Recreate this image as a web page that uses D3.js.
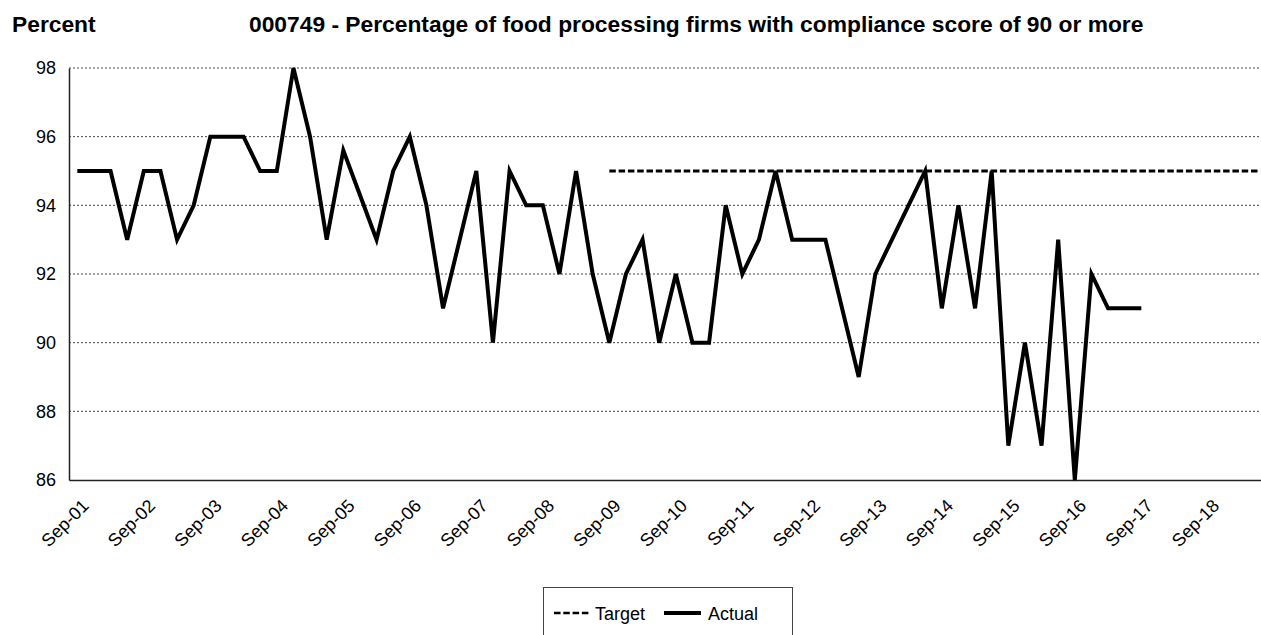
<!DOCTYPE html>
<html>
<head>
<meta charset="utf-8">
<script src="https://cdn.jsdelivr.net/npm/d3@7/dist/d3.min.js"></script>
<style>
  body { margin: 0; background: #fff; overflow: hidden; }
  svg { display: block; font-family: Arial, "Liberation Sans", sans-serif; }
</style>
</head>
<body>
<div id="chart"></div>
<script>
// Quarterly categories, Sep-01 .. Jun-19
var categories = [
    "Sep-01","Dec-01","Mar-02","Jun-02","Sep-02","Dec-02","Mar-03","Jun-03",
    "Sep-03","Dec-03","Mar-04","Jun-04","Sep-04","Dec-04","Mar-05","Jun-05",
    "Sep-05","Dec-05","Mar-06","Jun-06","Sep-06","Dec-06","Mar-07","Jun-07",
    "Sep-07","Dec-07","Mar-08","Jun-08","Sep-08","Dec-08","Mar-09","Jun-09",
    "Sep-09","Dec-09","Mar-10","Jun-10","Sep-10","Dec-10","Mar-11","Jun-11",
    "Sep-11","Dec-11","Mar-12","Jun-12","Sep-12","Dec-12","Mar-13","Jun-13",
    "Sep-13","Dec-13","Mar-14","Jun-14","Sep-14","Dec-14","Mar-15","Jun-15",
    "Sep-15","Dec-15","Mar-16","Jun-16","Sep-16","Dec-16","Mar-17","Jun-17",
    "Sep-17","Dec-17","Mar-18","Jun-18","Sep-18","Dec-18","Mar-19","Jun-19"
];

// Actual values from Sep-01 to Sep-17
var actual = [
    95, 95, 95, 93, 95, 95, 93, 94, 96, 96, 96,
    95, 95, 98, 96, 93, 95.6, 94.3, 93, 95, 96,
    94, 91, 93, 95, 90, 95, 94, 94, 92, 95,
    92, 90, 92, 93, 90, 92, 90, 90, 94, 92,
    93, 95, 93, 93, 93, 91, 89, 92, 93, 94,
    95, 91, 94, 91, 95, 87, 90, 87, 93, 86,
    92, 91, 91, 91
];

// Target of 95 from Sep-09 onwards
var targetStart = "Sep-09";
var targetValue = 95;

var xTickLabels = ["Sep-01","Sep-02","Sep-03","Sep-04","Sep-05","Sep-06","Sep-07","Sep-08","Sep-09",
    "Sep-10","Sep-11","Sep-12","Sep-13","Sep-14","Sep-15","Sep-16","Sep-17","Sep-18"];
var yTicks = [86, 88, 90, 92, 94, 96, 98];

var W = 1261, H = 635;
var margin = { top: 68, left: 69 },
    plotRight = 1266,
    plotBottom = 480;

var svg = d3.select("#chart").append("svg")
    .attr("width", W)
    .attr("height", H);

var x = d3.scalePoint()
    .domain(categories)
    .range([margin.left, plotRight])
    .padding(0.5);

var y = d3.scaleLinear()
    .domain([86, 98])
    .range([plotBottom, margin.top]);

// Titles
svg.append("text")
    .attr("x", 12).attr("y", 32)
    .style("font-size", "22.8px").style("font-weight", "bold")
    .text("Percent");
svg.append("text")
    .attr("x", 249).attr("y", 32)
    .style("font-size", "22.8px").style("font-weight", "bold")
    .text("000749 - Percentage of food processing firms with compliance score of 90 or more");

// Gridlines
svg.append("g")
    .selectAll("line")
    .data(yTicks.filter(function (d) { return d !== 86; }))
    .enter()
    .append("line")
    .attr("x1", margin.left).attr("x2", plotRight)
    .attr("y1", function (d) { return y(d); })
    .attr("y2", function (d) { return y(d); })
    .attr("stroke", "#444")
    .attr("stroke-width", 1)
    .attr("stroke-dasharray", "2,2");

// Y axis
var yAxis = d3.axisLeft(y).tickValues(yTicks).tickSize(0).tickPadding(13);
var gy = svg.append("g")
    .attr("transform", "translate(" + margin.left + ",0)")
    .call(yAxis);
gy.select(".domain").attr("stroke", "#222").attr("stroke-width", 1.5);
gy.selectAll("text").style("font-size", "18px").attr("fill", "#000");

// X axis
var xAxis = d3.axisBottom(x).tickValues(xTickLabels).tickSize(0).tickFormat(function (d) { return d; });
var gx = svg.append("g")
    .attr("transform", "translate(0," + plotBottom + ")")
    .call(xAxis);
gx.select(".domain").attr("stroke", "#222").attr("stroke-width", 1.5);
gx.selectAll(".tick text")
    .style("font-size", "18px")
    .attr("fill", "#000")
    .attr("text-anchor", "end")
    .attr("dy", 0)
    .attr("y", 0)
    .attr("transform", "translate(12,27) rotate(-45)");

// Target line
var targetData = categories.slice(categories.indexOf(targetStart)).map(function (c) {
    return { c: c, v: targetValue };
});
var line = d3.line()
    .x(function (d) { return x(d.c); })
    .y(function (d) { return y(d.v); });

svg.append("path")
    .datum(targetData)
    .attr("d", line)
    .attr("fill", "none")
    .attr("stroke", "#000")
    .attr("stroke-width", 3)
    .attr("stroke-dasharray", "6.5,2.8");

// Actual line
var actualData = actual.map(function (v, i) { return { c: categories[i], v: v }; });
svg.append("path")
    .datum(actualData)
    .attr("d", line)
    .attr("fill", "none")
    .attr("stroke", "#000")
    .attr("stroke-width", 4)
    .attr("stroke-linejoin", "miter");

// Legend
var legend = svg.append("g");
legend.append("rect")
    .attr("x", 543.5).attr("y", 587.5)
    .attr("width", 249).attr("height", 60)
    .attr("fill", "#fff")
    .attr("stroke", "#444");
legend.append("line")
    .attr("x1", 554).attr("x2", 589).attr("y1", 613).attr("y2", 613)
    .attr("stroke", "#000").attr("stroke-width", 2.5)
    .attr("stroke-dasharray", "6.5,2.8");
legend.append("text")
    .attr("x", 595).attr("y", 620)
    .style("font-size", "18px")
    .text("Target");
legend.append("line")
    .attr("x1", 664).attr("x2", 701).attr("y1", 613).attr("y2", 613)
    .attr("stroke", "#000").attr("stroke-width", 4);
legend.append("text")
    .attr("x", 708).attr("y", 620)
    .style("font-size", "18px")
    .text("Actual");
</script>
</body>
</html>
